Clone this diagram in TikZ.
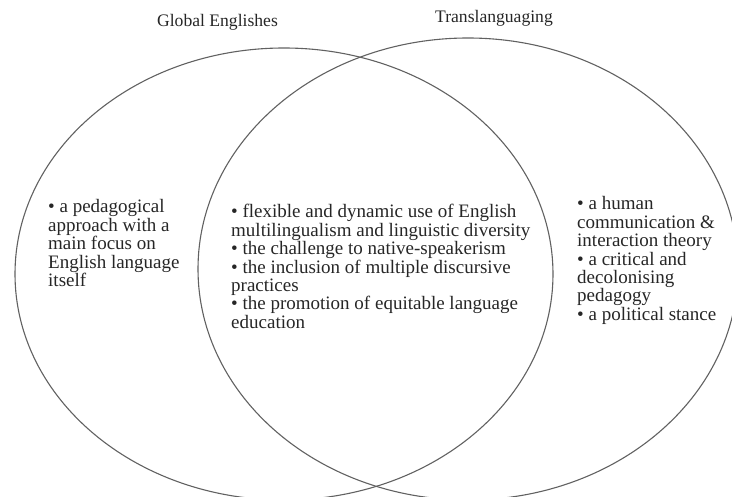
\documentclass[tikz,border=0pt]{standalone}
\usepackage{fontspec}
\setmainfont{Liberation Serif}
\newcommand{\drawvennset}[4]{
    \begin{scope}[shift={(#2)}]
        \coordinate (#1) at (0,0);
        \draw [setline] (0,0) ellipse [x radius=#3, y radius=#4];
    \end{scope}
}

\begin{document}
\begin{tikzpicture}[x=1pt, y=-1pt,
    setline/.style={draw=black!62, line width=1.1pt},
    settitle/.style={anchor=base, inner sep=0pt, text=black!85, font=\fontsize{17.6}{20}\selectfont},
    itemtext/.style={anchor=base west, inner sep=0pt, align=left, text=black!85, font=\fontsize{19}{18.4}\selectfont}]
    \useasboundingbox (0,0) rectangle (732,497);
    \clip (0,0) rectangle (732,497);
    % the two sets
    \drawvennset{GE}{284,274}{269}{226};
    \drawvennset{TL}{468,269}{270}{231};
    \node [settitle] (getitle) at (217.5,27) {Global Englishes};
    \node [settitle] (tltitle) at (494,23) {Translanguaging};
    % only Global Englishes (base = last line)
    \node [itemtext] (geonly) at (48,286.6) {\textbullet\ a pedagogical\\approach with a\\main focus on\\English language\\itself};
    % overlap
    \node [itemtext] (overlap) at (231,328.4) {\textbullet\ flexible and dynamic use of English\\multilingualism and linguistic diversity\\\textbullet\ the challenge to native-speakerism\\\textbullet\ the inclusion of multiple discursive\\practices\\\textbullet\ the promotion of equitable language\\education};
    % only translanguaging
    \node [itemtext] (tlonly) at (577,320.4) {\textbullet\ a human\\communication \&\\interaction theory\\\textbullet\ a critical and\\decolonising\\pedagogy\\\textbullet\ a political stance};
\end{tikzpicture}
\end{document}
